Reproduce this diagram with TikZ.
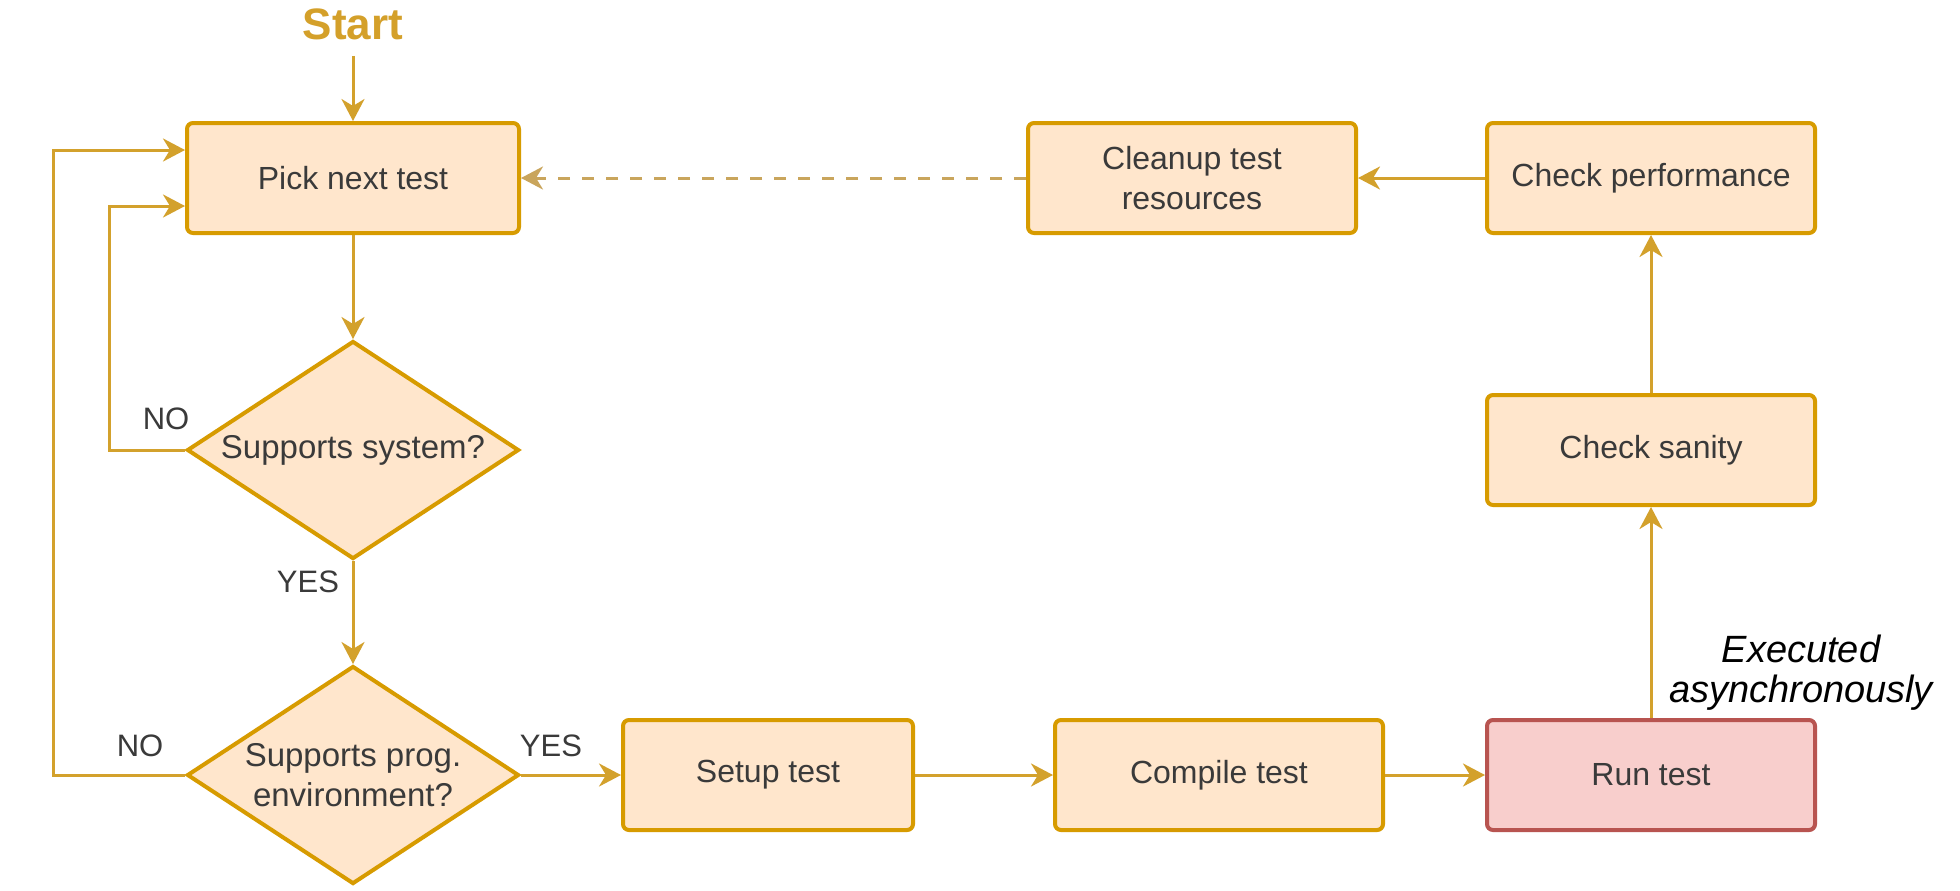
\documentclass[tikz,border=0pt]{standalone}
\usepackage{fontspec}
\setmainfont{Liberation Sans}
\usetikzlibrary{shapes.geometric,arrows.meta,calc}
\definecolor{bfill}{HTML}{FFE6CC}
\definecolor{bdraw}{HTML}{D79B00}
\definecolor{rfill}{HTML}{F8CECC}
\definecolor{rdraw}{HTML}{B85450}
\definecolor{edgecol}{HTML}{D3A12C}
\definecolor{dashcol}{HTML}{C9A55C}
\definecolor{txt}{HTML}{3A3A3A}
\definecolor{startcol}{HTML}{D4A02A}
\begin{document}
\begin{tikzpicture}[x=0.5pt,y=-0.5pt,
  font=\fontsize{16}{20}\selectfont,
  box/.style={draw=bdraw,fill=bfill,line width=2pt,rounded corners=3pt,minimum width=164pt,minimum height=55pt,text=txt,align=center,inner sep=2pt},
  runbox/.style={box,draw=rdraw,fill=rfill},
  dec/.style={diamond,shape aspect=1.52,draw=bdraw,fill=bfill,line width=2pt,minimum width=166pt,minimum height=109pt,inner sep=0pt,text=txt,align=center,font=\fontsize{16.5}{20}\selectfont},
  arr/.style={draw=edgecol,line width=1.5pt,-{Stealth[length=11pt,width=11.5pt,inset=3.5pt]}},
  lbl/.style={text=txt,inner sep=0pt,font=\fontsize{15.5}{20}\selectfont}]
\fill[white] (0,0) rectangle (1960,890);
\useasboundingbox (0,0) rectangle (1960,890);

\node[text=startcol,font=\fontsize{22}{26}\selectfont\bfseries,inner sep=8pt] (start) at (353,24) {Start};
\node[box,minimum width=166pt] (pick) at (353,178) {Pick next test};
\node[box] (clean) at (1192,178) {Cleanup test\\resources};
\node[box] (perf) at (1651,178) {Check performance};
\node[box] (sanity) at (1651,450) {Check sanity};
\node[runbox] (run) at (1651,775) {Run test};
\node[box] (compile) at (1219,775) {Compile test};
\node[box,minimum width=145pt] (setup) at (768,775) {Setup test};
\node[dec] (d1) at (353,450) {Supports system?};
\node[dec] (d2) at (353,775) {Supports prog.\\environment?};

\node[lbl] (no1) at (166,419) {NO};
\node[lbl] (yes1) at (308,582) {YES};
\node[lbl] (no2) at (140,746) {NO};
\node[lbl] (yes2) at (551,746) {YES};
\node[lbl,align=center,font=\fontsize{19}{20}\selectfont\itshape,text=black] (async) at (1801,673) {Executed\\asynchronously};

\draw[arr] (start) -- (pick);
\draw[arr] (pick) -- (d1);
\draw[arr] (d1) -- (d2);
\draw[arr] (d1.west) -- ++(-76,0) |- ($(pick.west)+(0,28)$);
\draw[arr] (d2.west) -- ++(-132,0) |- ($(pick.west)+(0,-28)$);
\draw[arr] (d2) -- (setup);
\draw[arr] (setup) -- (compile);
\draw[arr] (compile) -- (run);
\draw[arr] (run) -- (sanity);
\draw[arr] (sanity) -- (perf);
\draw[arr] (perf) -- (clean);
\draw[arr,draw=dashcol,dash pattern=on 6pt off 6pt] (clean) -- (pick);
\end{tikzpicture}
\end{document}
